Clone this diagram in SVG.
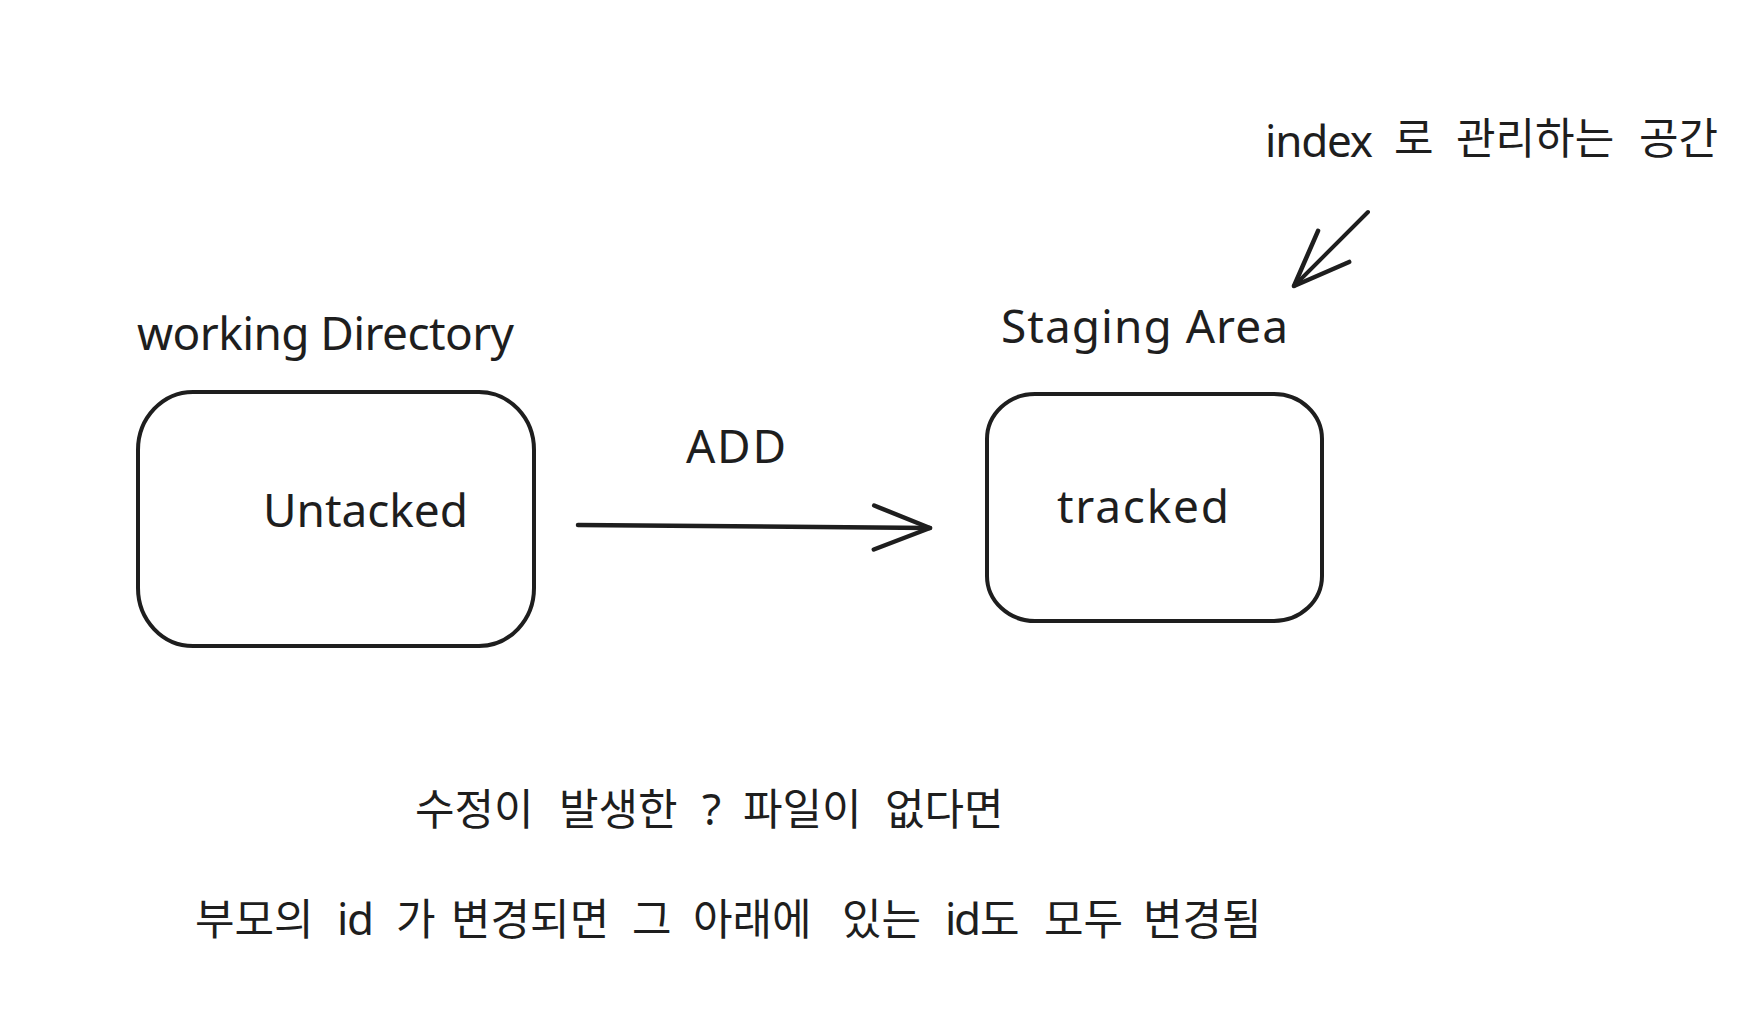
<svg xmlns="http://www.w3.org/2000/svg" width="1758" height="1024" viewBox="0 0 1758 1024">
  <style>
    .box { fill: none; stroke: #1e1e1e; stroke-width: 4; stroke-linejoin: round; }
    .lat { font-family: "Noto Sans", "Liberation Sans", sans-serif; font-size: 46px; fill: #1e1e1e; }
    .kr { font-family: "Noto Sans CJK KR", "Noto Sans", sans-serif; font-size: 43px; fill: #1e1e1e; }
    .krlat { font-family: "Noto Sans", "Liberation Sans", sans-serif; font-size: 44px; fill: #1e1e1e; }
    .conn { fill: none; stroke: #1e1e1e; stroke-linecap: round; stroke-linejoin: round; }
  </style>
  <defs>
    <marker id="ah" viewBox="-64 -28 70 56" refX="0" refY="0" markerWidth="70" markerHeight="56" markerUnits="userSpaceOnUse" orient="auto" overflow="visible">
      <path d="M-56,-22 L0,0 L-56,22" fill="none" stroke="#1e1e1e" stroke-width="4.5" stroke-linecap="round" stroke-linejoin="round"/>
    </marker>
  </defs>
  <rect x="0" y="0" width="1758" height="1024" fill="#ffffff"/>

  <g id="node-working-directory">
    <rect class="box" x="138" y="392" width="396" height="254" rx="55" ry="58"/>
    <text class="lat" x="137" y="350" textLength="377">working Directory</text>
    <text class="lat" x="263" y="527" textLength="205">Untacked</text>
  </g>

  <g id="node-staging-area">
    <rect class="box" x="987" y="394" width="335" height="227" rx="48" ry="45"/>
    <text class="lat" x="1001" y="343" textLength="287">Staging Area</text>
    <text class="lat" x="1057" y="523" textLength="172">tracked</text>
  </g>

  <g id="connectors">
    <path class="conn" d="M578,525 L930,528" stroke-width="4.5" marker-end="url(#ah)"/>
    <text class="lat" x="686" y="463" textLength="100">ADD</text>
    <path class="conn" d="M1368,212 L1294,286" stroke-width="4" marker-end="url(#ah)"/>
  </g>

  <g id="note-index">
    <text class="krlat" x="1265" y="157" textLength="108">index</text>
    <text class="kr" y="154"><tspan x="1394">로</tspan><tspan x="1456">관리하는</tspan><tspan x="1639">공간</tspan></text>
  </g>

  <g id="note-line1">
    <text class="kr" y="825"><tspan x="415">수정이</tspan><tspan x="559">발생한</tspan><tspan x="743">파일이</tspan><tspan x="885">없다면</tspan></text>
    <text class="krlat" x="702" y="825">?</text>
  </g>

  <g id="note-line2">
    <text class="kr" y="935"><tspan x="195">부모의</tspan><tspan x="396">가</tspan><tspan x="451">변경되면</tspan><tspan x="632">그</tspan><tspan x="693">아래에</tspan><tspan x="842">있는</tspan><tspan x="980">도</tspan><tspan x="1044">모두</tspan><tspan x="1143">변경됨</tspan></text>
    <text class="krlat" x="337" y="935" textLength="37">id</text>
    <text class="krlat" x="945" y="935" textLength="36">id</text>
  </g>
</svg>
